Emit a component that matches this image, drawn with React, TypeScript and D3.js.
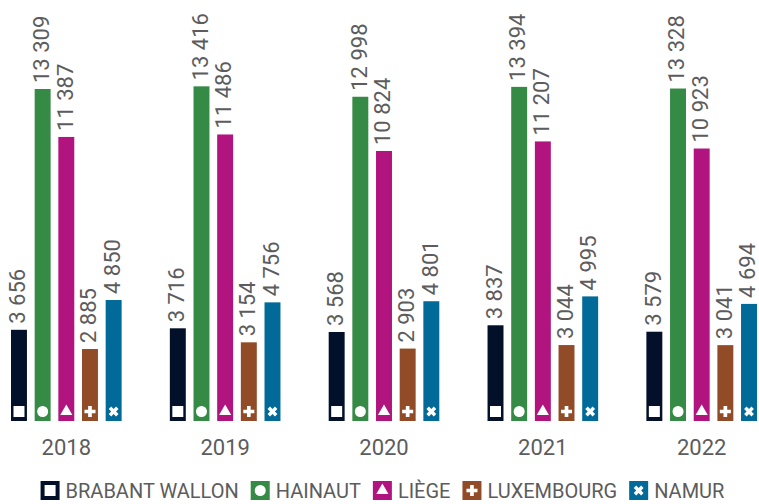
import React, { useEffect, useRef } from 'react'
import * as d3 from 'd3'

const years = ['2018', '2019', '2020', '2021', '2022']
const regions = ['BRABANT WALLON', 'HAINAUT', 'LIÈGE', 'LUXEMBOURG', 'NAMUR']
const brabantWallon = [3656, 3716, 3568, 3837, 3579]
const hainaut = [13309, 13416, 12998, 13394, 13328]
const liege = [11387, 11486, 10824, 11207, 10923]
const luxembourg = [2885, 3154, 2903, 3044, 3041]
const namur = [4850, 4756, 4801, 4995, 4694]
const colors = ['#02102a', '#358a45', '#b1147e', '#914b27', '#016a99']

export default function App(): React.ReactElement {
  const chartRef = useRef<HTMLDivElement>(null)

  useEffect(() => {
    const series = [brabantWallon, hainaut, liege, luxembourg, namur]
    const rows = years.flatMap((year, i) =>
      regions.map((region, j) => ({ year, region, idx: j, value: series[j][i] }))
    )

    const width = 759
    const height = 504
    const baseline = 421
    const textColor = '#5c5c5c'
    const font = 'Roboto, sans-serif'

    const fmt = d3.formatLocale({ decimal: ',', thousands: ' ', grouping: [3], currency: ['', ''] }).format(',d')

    const x0 = d3.scaleBand().domain(years).range([11, 757]).paddingInner(0.3036)
    const x1 = d3.scaleBand().domain(regions).range([0, x0.bandwidth()]).paddingInner(0.326)
    const y = d3.scaleLinear().domain([0, 13309]).range([baseline, 89])

    const symbolFor = (j: number, size: number) => {
      const types = [d3.symbolSquare, d3.symbolCircle, d3.symbolTriangle, d3.symbolCross, d3.symbolCross]
      return d3.symbol().type(types[j]).size(size)()
    }
    const sizes = [121, 95, 64, 68, 60]

    d3.select(chartRef.current).select('svg').remove()

    const svg = d3
      .select(chartRef.current)
      .append('svg')
      .attr('width', width)
      .attr('height', height)
      .attr('viewBox', `0 0 ${width} ${height}`)
      .attr('style', 'position: absolute; left: 0; top: 0;')

    const groups = svg
      .append('g')
      .selectAll('g')
      .data(years)
      .join('g')
      .attr('transform', (d) => `translate(${x0(d)},0)`)

    const bars = groups
      .selectAll('g')
      .data((d) => rows.filter((r) => r.year === d))
      .join('g')
      .attr('transform', (d) => `translate(${x1(d.region)},0)`)

    bars
      .append('rect')
      .attr('x', 0)
      .attr('y', (d) => y(d.value))
      .attr('width', x1.bandwidth())
      .attr('height', (d) => baseline - y(d.value))
      .attr('fill', (d) => colors[d.idx])

    bars
      .append('path')
      .attr('d', (d) => symbolFor(d.idx, sizes[d.idx]))
      .attr('fill', 'white')
      .attr(
        'transform',
        (d) => `translate(${x1.bandwidth() / 2},${baseline - 9.5})${d.idx === 4 ? ' rotate(45)' : ''}`
      )

    bars
      .append('text')
      .attr('transform', (d) => `translate(${x1.bandwidth() / 2 - 1.5},${y(d.value) - 6}) rotate(-90)`)
      .attr('dy', '0.35em')
      .attr('fill', textColor)
      .attr('font-family', font)
      .attr('font-size', 22)
      .text((d) => fmt(d.value))

    svg
      .append('g')
      .selectAll('text')
      .data(years)
      .join('text')
      .attr('x', (d) => x0(d)! + x0.bandwidth() / 2)
      .attr('y', 455)
      .attr('text-anchor', 'middle')
      .attr('fill', textColor)
      .attr('font-family', font)
      .attr('font-size', 22)
      .text((d) => d)

    // legend: square, gap, label, 12px gap
    const legend = svg.append('g')
    const sq = 19
    const top = 481
    let cx = 0
    regions.forEach((region, j) => {
      const item = legend.append('g').attr('transform', `translate(${cx},0)`)
      item.append('rect').attr('x', 0).attr('y', top).attr('width', sq).attr('height', sq).attr('fill', colors[j])
      item
        .append('path')
        .attr('d', symbolFor(j, sizes[j]))
        .attr('fill', 'white')
        .attr('transform', `translate(${sq / 2},${top + sq / 2})${j === 4 ? ' rotate(45)' : ''}`)
      const t = item
        .append('text')
        .attr('x', sq + 6)
        .attr('y', 498)
        .attr('fill', textColor)
        .attr('font-family', font)
        .attr('font-size', 20)
        .text(region)
      cx += sq + 6 + (t.node() as SVGTextElement).getComputedTextLength() + 12
    })
    const legendWidth = cx - 12
    legend.attr('transform', `translate(${382.5 - legendWidth / 2},0)`)
  }, [])

  return <div ref={chartRef}></div>
}
